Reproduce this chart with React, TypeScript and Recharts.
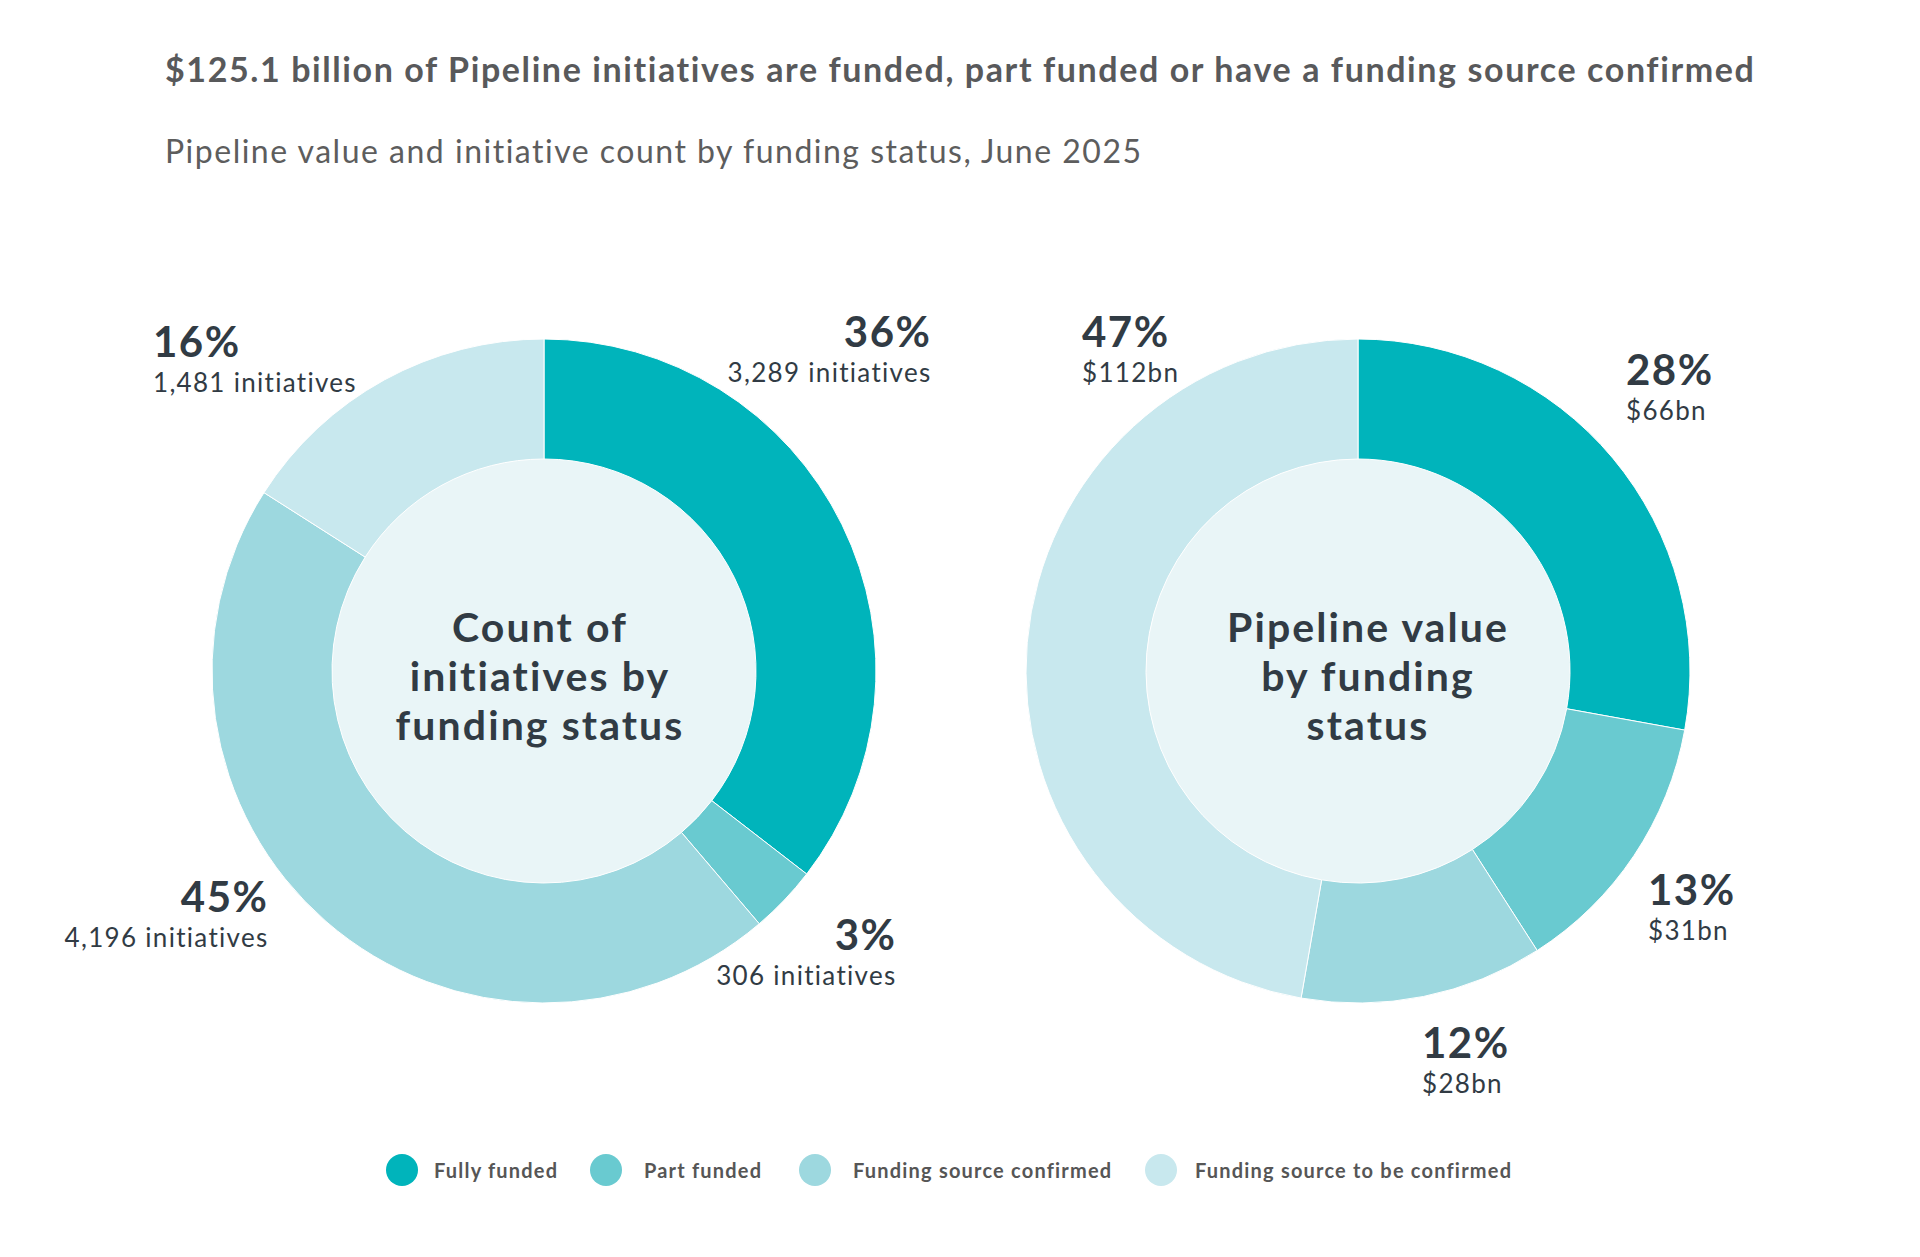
import React from "react";
import { PieChart, Pie, Cell, Legend } from "recharts";

// ---- Data ----
const categories = ["Fully funded", "Part funded", "Funding source confirmed", "Funding source to be confirmed"];
const colors = ["#00b4bb", "#69cad0", "#9dd8df", "#c8e8ee"];

const countValues = [3289, 306, 4196, 1481];
const countPercentLabels = ["36%", "3%", "45%", "16%"];
const countSubLabels = ["3,289 initiatives", "306 initiatives", "4,196 initiatives", "1,481 initiatives"];

const valueValues = [66, 31, 28, 112];
const valuePercentLabels = ["28%", "13%", "12%", "47%"];
const valueSubLabels = ["$66bn", "$31bn", "$28bn", "$112bn"];

const countCenterLines = ["Count of", "initiatives by", "funding status"];
const valueCenterLines = ["Pipeline value", "by funding", "status"];

const titleText = "$125.1 billion of Pipeline initiatives are funded, part funded or have a funding source confirmed";
const subtitleText = "Pipeline value and initiative count by funding status, June 2025";

// ---- Layout (label annotation offsets relative to donut centre) ----
const countLabelLayout = [
  { dx: 386, dy: -324, anchor: "end" },
  { dx: 351, dy: 279, anchor: "end" },
  { dx: -277, dy: 241, anchor: "end" },
  { dx: -391, dy: -314, anchor: "start" },
];
const valueLabelLayout = [
  { dx: 268, dy: -286, anchor: "start" },
  { dx: 290, dy: 234, anchor: "start" },
  { dx: 64, dy: 387, anchor: "start" },
  { dx: -276, dy: -324, anchor: "start" },
];

const FONT = "Lato, 'Open Sans', sans-serif";
const DARK = "#313b44";

const countData = categories.map((name, i) => ({ name, value: countValues[i] }));
const valueData = categories.map((name, i) => ({ name, value: valueValues[i] }));
const centerData = [{ name: "centre", value: 1 }];

const makeRingLabel = (layout: any[], pcts: string[], subs: string[]) => (props: any) => {
  const { cx, cy, index } = props;
  const l = layout[index];
  const x = cx + l.dx;
  const y = cy + l.dy;
  const endAdj = l.anchor === "end" ? 1.5 : 0;
  return (
    <g key={`lbl-${index}`}>
      <text x={x + endAdj} y={y} textAnchor={l.anchor} fontFamily={FONT} fontWeight={700} fontSize={42} fill={DARK} letterSpacing={1.5}>
        {pcts[index]}
      </text>
      <text x={x + endAdj} y={y + 35} textAnchor={l.anchor} fontFamily={FONT} fontWeight={400} fontSize={26} fill={DARK} letterSpacing={1.3}>
        {subs[index]}
      </text>
    </g>
  );
};

const makeCenterLabel = (lines: string[], shift: number) => (props: any) => {
  const { cx, cy } = props;
  const dys = [-29, 19.5, 68.5];
  return (
    <g key="centre-label">
      {lines.map((t, i) => (
        <text key={i} x={cx + shift} y={cy + dys[i]} textAnchor="middle" fontFamily={FONT} fontWeight={700} fontSize={41} fill={DARK} letterSpacing={2.1}>
          {t}
        </text>
      ))}
    </g>
  );
};

const legendItemWidths = [204, 209, 346, 380];
const legendTextGaps = [16, 22, 22, 18];

const LegendContent = () => (
  <div style={{ display: "flex", alignItems: "center", fontFamily: FONT }}>
    {categories.map((c, i) => (
      <div key={c} style={{ display: "flex", alignItems: "center", width: legendItemWidths[i] }}>
        <div style={{ width: 32, height: 32, borderRadius: 16, background: colors[i], flex: "none" }} />
        <span style={{ marginLeft: legendTextGaps[i], fontSize: 20, fontWeight: 700, color: "#565656", letterSpacing: 1.2, whiteSpace: "nowrap" }}>{c}</span>
      </div>
    ))}
  </div>
);

export default function App() {
  return (
    <div style={{ position: "absolute", left: 0, top: 0, width: 1920, height: 1257, background: "#ffffff", overflow: "hidden" }}>
      <div style={{ position: "absolute", left: 165, top: 48, fontFamily: FONT, fontWeight: 700, fontSize: 34, color: "#58595b", whiteSpace: "nowrap", letterSpacing: 1.6 }}>
        {titleText}
      </div>
      <div style={{ position: "absolute", left: 165, top: 131, fontFamily: FONT, fontWeight: 400, fontSize: 32, color: "#5d5d5d", whiteSpace: "nowrap", letterSpacing: 1.5 }}>
        {subtitleText}
      </div>
      <div style={{ position: "absolute", left: 0, top: 0 }}>
        <PieChart width={1920} height={1257} margin={{ top: 0, right: 0, bottom: 0, left: 0 }}>
          <Pie
            data={centerData}
            dataKey="value"
            cx={544}
            cy={671}
            innerRadius={0}
            outerRadius={212}
            startAngle={90}
            endAngle={-270}
            fill="#e9f5f7"
            stroke="none"
            isAnimationActive={false}
            labelLine={false}
            label={makeCenterLabel(countCenterLines, -4)}
          />
          <Pie
            data={countData}
            dataKey="value"
            cx={544}
            cy={671}
            innerRadius={212}
            outerRadius={332}
            startAngle={90}
            endAngle={-270}
            stroke="#ffffff"
            strokeWidth={1}
            isAnimationActive={false}
            labelLine={false}
            label={makeRingLabel(countLabelLayout, countPercentLabels, countSubLabels)}
          >
            {countData.map((d, i) => (
              <Cell key={d.name} fill={colors[i]} />
            ))}
          </Pie>
          <Pie
            data={centerData}
            dataKey="value"
            cx={1358}
            cy={671}
            innerRadius={0}
            outerRadius={212}
            startAngle={90}
            endAngle={-270}
            fill="#e9f5f7"
            stroke="none"
            isAnimationActive={false}
            labelLine={false}
            label={makeCenterLabel(valueCenterLines, 10)}
          />
          <Pie
            data={valueData}
            dataKey="value"
            cx={1358}
            cy={671}
            innerRadius={212}
            outerRadius={332}
            startAngle={90}
            endAngle={-270}
            stroke="#ffffff"
            strokeWidth={1}
            isAnimationActive={false}
            labelLine={false}
            label={makeRingLabel(valueLabelLayout, valuePercentLabels, valueSubLabels)}
          >
            {valueData.map((d, i) => (
              <Cell key={d.name} fill={colors[i]} />
            ))}
          </Pie>
          <Legend
            verticalAlign="bottom"
            content={<LegendContent />}
            wrapperStyle={{ position: "absolute", top: 1154, left: 386, bottom: "auto", width: 1300, height: 32 }}
          />
        </PieChart>
      </div>
    </div>
  );
}
